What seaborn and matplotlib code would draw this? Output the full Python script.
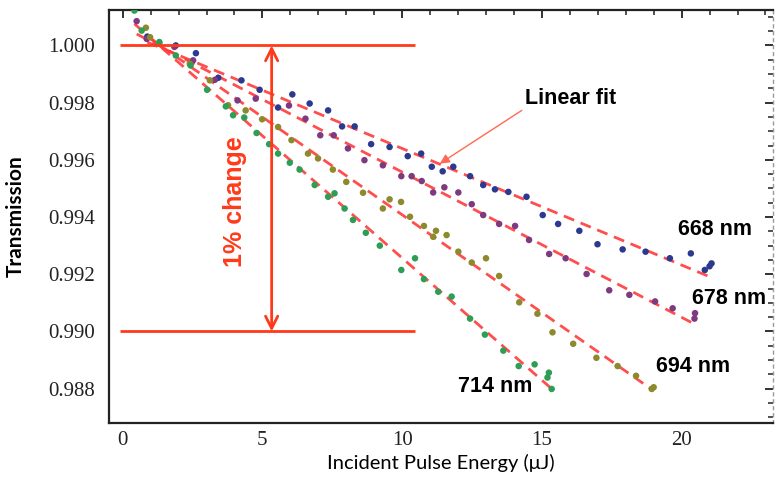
import numpy as np
import pandas as pd
import matplotlib
matplotlib.use("Agg")
import matplotlib.pyplot as plt
import seaborn as sns
from matplotlib.ticker import MultipleLocator, FormatStrFormatter

# ---------------- data ----------------
series_names = ["668 nm", "678 nm", "694 nm", "714 nm"]

x668 = [0.88, 1.90, 2.62, 3.42, 4.25, 4.90, 5.56, 6.07, 6.69, 7.35, 7.85, 8.30, 8.89, 9.55,
        10.20, 10.68, 11.06, 11.45, 11.83, 12.43, 12.90, 13.32, 13.80, 14.45, 15.03, 15.58,
        16.34, 16.99, 17.89, 18.71, 19.58, 20.33, 20.83, 21.07, 21.00]
y668 = [1.00031, 1.00000, 0.99973, 0.99887, 0.99878, 0.99845, 0.99783, 0.99829, 0.99797,
        0.99773, 0.99717, 0.99717, 0.99655, 0.99645, 0.99613, 0.99622, 0.99576, 0.99560,
        0.99576, 0.99543, 0.99512, 0.99497, 0.99488, 0.99471, 0.99407, 0.99376, 0.99352,
        0.99305, 0.99287, 0.99279, 0.99256, 0.99273, 0.99215, 0.99238, 0.99228]

x678 = [0.50, 0.86, 1.85, 2.52, 3.30, 4.11, 4.76, 5.95, 6.54, 7.07, 7.55, 8.06, 8.65, 9.31,
        9.97, 10.34, 10.70, 11.11, 11.51, 12.01, 12.49, 12.90, 13.47, 14.04, 14.54, 15.26,
        15.85, 16.60, 17.41, 18.13, 19.05, 19.68, 20.48, 20.46]
y678 = [1.00085, 1.00023, 0.99995, 0.99948, 0.99880, 0.99808, 0.99814, 0.99790, 0.99744,
        0.99686, 0.99686, 0.99640, 0.99599, 0.99581, 0.99543, 0.99543, 0.99526, 0.99486,
        0.99504, 0.99486, 0.99445, 0.99407, 0.99376, 0.99369, 0.99320, 0.99271, 0.99256,
        0.99201, 0.99144, 0.99128, 0.99105, 0.99081, 0.99064, 0.99045]

x694 = [0.83, 0.98, 1.31, 2.40, 3.12, 3.77, 4.40, 4.99, 5.56, 6.04, 6.63, 6.99, 7.52, 8.00,
        8.60, 9.31, 9.55, 9.96, 10.28, 10.78, 11.11, 11.21, 11.59, 12.01, 12.49, 13.00,
        13.47, 14.19, 14.84, 15.38, 16.12, 16.95, 17.71, 18.37, 19.00, 18.93]
y694 = [1.00062, 1.00029, 1.00008, 0.99936, 0.99878, 0.99791, 0.99773, 0.99742, 0.99715,
        0.99669, 0.99622, 0.99605, 0.99566, 0.99523, 0.99485, 0.99430, 0.99462, 0.99453,
        0.99401, 0.99369, 0.99331, 0.99352, 0.99337, 0.99279, 0.99241, 0.99256, 0.99194,
        0.99102, 0.99062, 0.98997, 0.98957, 0.98908, 0.98879, 0.98845, 0.98805, 0.98799]

x714 = [0.42, 0.68, 1.31, 1.90, 2.43, 3.02, 3.69, 3.95, 4.35, 4.79, 5.24, 5.56, 5.98, 6.33,
        6.87, 7.35, 7.58, 7.94, 8.24, 8.70, 9.20, 9.97, 10.46, 10.78, 11.29, 11.77, 12.43,
        12.96, 13.62, 14.17, 14.74, 15.20, 15.25, 15.35]
y714 = [1.00122, 1.00052, 1.00012, 0.99965, 0.99930, 0.99845, 0.99787, 0.99756, 0.99748,
        0.99694, 0.99655, 0.99622, 0.99590, 0.99566, 0.99512, 0.99471, 0.99483, 0.99430,
        0.99390, 0.99345, 0.99300, 0.99215, 0.99256, 0.99183, 0.99139, 0.99122, 0.99045,
        0.98989, 0.98933, 0.98879, 0.98885, 0.98839, 0.98856, 0.98799]

x_ticks = [0, 5, 10, 15, 20]
y_ticks = [0.988, 0.990, 0.992, 0.994, 0.996, 0.998, 1.000]
change_levels = [1.000, 0.990]

colors = {"668 nm": "#2B3991", "678 nm": "#7E3A80", "694 nm": "#8C8A2C", "714 nm": "#2E9E55"}
label_pos = {"668 nm": (21.19, 0.99358), "678 nm": (21.71, 0.99114),
             "694 nm": (20.40, 0.98879), "714 nm": (13.32, 0.98806)}

frames = []
for name, xs, ys in zip(series_names, [x668, x678, x694, x714], [y668, y678, y694, y714]):
    frames.append(pd.DataFrame({"energy": xs, "T": ys, "series": name}))
df = pd.concat(frames, ignore_index=True)

# ---------------- plotting ----------------
sns.set_style("white")
plt.rcParams["font.family"] = ["Liberation Sans", "DejaVu Sans"]

fig = plt.figure(figsize=(7.76, 4.92), dpi=100)
ax = fig.add_axes([109 / 776, 1 - 423 / 492, (773 - 109) / 776, (423 - 10) / 492])

for name in series_names:
    sns.regplot(data=df[df["series"] == name], x="energy", y="T", scatter=False, ci=None,
                truncate=True, ax=ax,
                line_kws=dict(color="#FF3B3B", lw=2.0, dashes=(4, 2.5), alpha=0.9, zorder=2))

sns.scatterplot(data=df, x="energy", y="T", hue="series", palette=colors, s=22,
                edgecolor="none", legend=False, ax=ax, zorder=3)

red = "#FF3A1A"
ax.hlines(change_levels, -0.1, 10.45, color=red, lw=2, zorder=4)
ax.annotate("", xy=(5.33, change_levels[0]), xytext=(5.33, change_levels[1]),
            arrowprops=dict(arrowstyle="<->", color=red, lw=2, mutation_scale=22,
                            shrinkA=0, shrinkB=0), zorder=4)
ax.text(4.02, 0.99453, "1% change", rotation=90, ha="center", va="center", color=red,
        fontsize=18, fontweight="bold")

ax.annotate("", xy=(11.35, 0.99587), xytext=(14.28, 0.99773),
            arrowprops=dict(arrowstyle="-|>", color="#FF6A50", lw=1.0, mutation_scale=14,
                            shrinkA=0, shrinkB=0))
ax.text(16.04, 0.99816, "Linear fit", ha="center", va="center", fontsize=15.5,
        fontweight="bold", color="black")

for name in series_names:
    lx, ly = label_pos[name]
    ax.text(lx, ly, name, ha="center", va="center", fontsize=15.5, fontweight="bold",
            color="black")

ax.set_xlim(-0.49, 23.27)
ax.set_ylim(0.98680, 1.00124)
ax.set_xticks(x_ticks)
ax.set_yticks(y_ticks)
ax.xaxis.set_minor_locator(MultipleLocator(1))
ax.yaxis.set_minor_locator(MultipleLocator(0.0005))
ax.yaxis.set_major_formatter(FormatStrFormatter("%.3f"))

ax.tick_params(which="both", direction="in", top=True, right=True, color="#222222")
ax.tick_params(which="major", length=6, width=1.3)
ax.tick_params(which="minor", length=3.5, width=1.1)
ax.tick_params(axis="y", which="major", pad=10)
ax.tick_params(axis="x", which="major", pad=6)
for lab in ax.get_xticklabels() + ax.get_yticklabels():
    lab.set_family(["Liberation Serif", "DejaVu Serif"])
    lab.set_fontsize(15)
    lab.set_color("#222222")

for side in ["left", "bottom", "top"]:
    ax.spines[side].set_color("#222222")
    ax.spines[side].set_linewidth(1.6)
ax.spines["right"].set_color("#999999")
ax.spines["right"].set_linewidth(1.0)
ax.spines["right"].set_linestyle((0, (2, 3)))

ax.set_xlabel("Incident Pulse Energy (μJ)", family=["Lato", "DejaVu Sans"], fontsize=14.5,
              color="black")
ax.set_ylabel("Transmission", family=["Lato", "DejaVu Sans"], fontsize=15,
              fontweight="bold", color="black")
ax.xaxis.set_label_coords(0.5, -0.075)
ax.yaxis.set_label_coords(-0.125, 0.5)

fig.savefig("out.png", dpi=100)
